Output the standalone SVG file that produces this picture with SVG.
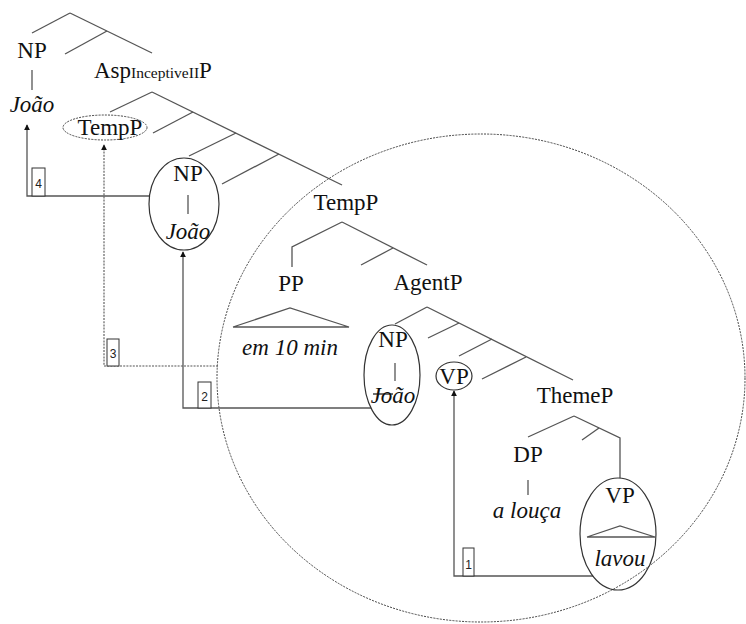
<svg xmlns="http://www.w3.org/2000/svg" width="746" height="624" viewBox="0 0 746 624">
  <style>
    .t { font-family: "Liberation Serif", "Times New Roman", serif; font-size: 23px; fill: #111; text-anchor: middle; }
    .i { font-style: italic; }
    .br { fill: none; stroke: #555; stroke-width: 1.3; }
    .oval { fill: none; stroke: #333; stroke-width: 1.2; }
    .dot { fill: none; stroke: #444; stroke-width: 1; stroke-dasharray: 2 1.2; }
    .mv { fill: none; stroke: #555; stroke-width: 1.3; }
    .mvd { fill: none; stroke: #555; stroke-width: 1.1; stroke-dasharray: 2 1.2; }
    .box { fill: #fff; stroke: #333; stroke-width: 1; }
    .n { font-family: "Liberation Sans", Arial, sans-serif; font-size: 12px; fill: #222; text-anchor: middle; }
  </style>
  <defs>
    <marker id="tip" viewBox="0 0 8 8" refX="7" refY="4" markerWidth="6" markerHeight="6" orient="auto" markerUnits="userSpaceOnUse">
      <path d="M0,0 L8,4 L0,8 Z" fill="#111"/>
    </marker>
  </defs>

  <!-- large dashed domain boundary -->
  <ellipse class="dot" cx="481" cy="378" rx="264" ry="244"/>

  <g id="connectors">
    <!-- top tree -->
    <line class="br" x1="70" y1="13" x2="32" y2="33"/>
    <line class="br" x1="70" y1="13" x2="152" y2="53"/>
    <line class="br" x1="107" y1="31" x2="65" y2="54"/>
    <line class="br" x1="32" y1="70" x2="32" y2="90"/>
    <!-- AspP spine -->
    <line class="br" x1="152" y1="92" x2="110" y2="112"/>
    <line class="br" x1="152" y1="92" x2="342" y2="185"/>
    <line class="br" x1="193" y1="112" x2="153" y2="133"/>
    <line class="br" x1="236" y1="133" x2="189" y2="156"/>
    <line class="br" x1="279" y1="154" x2="222" y2="184"/>
    <line class="br" x1="188" y1="195" x2="188" y2="214"/>
    <!-- TempP -->
    <polyline class="br" points="342,222 292,247 292,267"/>
    <line class="br" x1="342" y1="222" x2="427" y2="265"/>
    <line class="br" x1="393" y1="248" x2="361" y2="265"/>
    <polyline class="br" points="233,327 290,308 349,327 233,327"/>
    <!-- AgentP -->
    <line class="br" x1="427" y1="307" x2="395" y2="324"/>
    <line class="br" x1="427" y1="307" x2="573" y2="380"/>
    <line class="br" x1="459" y1="323" x2="428" y2="338"/>
    <line class="br" x1="492" y1="339" x2="459" y2="356"/>
    <line class="br" x1="526" y1="357" x2="482" y2="379"/>
    <line class="br" x1="395" y1="363" x2="395" y2="381"/>
    <!-- ThemeP -->
    <line class="br" x1="574" y1="416" x2="528" y2="437"/>
    <polyline class="br" points="574,416 620,438 620,478"/>
    <line class="br" x1="599" y1="428" x2="582" y2="440"/>
    <line class="br" x1="528" y1="480" x2="528" y2="495"/>
    <polyline class="br" points="587,537 620,526 655,537 587,537"/>

    <!-- movement paths -->
    <polyline class="mv" points="593,576 454,576 454,391" marker-end="url(#tip)"/>
    <polyline class="mv" points="371,408 183,408 183,252" marker-end="url(#tip)"/>
    <polyline class="mvd" points="218,366 104,366 104,145" marker-end="url(#tip)"/>
    <polyline class="mv" points="150,196 27,196 27,125" marker-end="url(#tip)"/>

    <rect class="box" x="463" y="548" width="11" height="28"/>
    <text class="n" x="468.5" y="569">1</text>
    <rect class="box" x="198" y="382" width="13" height="26"/>
    <text class="n" x="204.5" y="401">2</text>
    <rect class="box" x="107" y="339" width="12" height="27"/>
    <text class="n" x="113" y="358">3</text>
    <rect class="box" x="32" y="168" width="13" height="28"/>
    <text class="n" x="38.5" y="188">4</text>
  </g>

  <g id="np-top">
    <text class="t" x="32" y="58">NP</text>
    <text class="t i" x="32" y="112">João</text>
  </g>

  <g id="asp">
    <text class="t" x="94" y="78" style="text-anchor:start">Asp<tspan font-size="14" textLength="68" lengthAdjust="spacingAndGlyphs">InceptiveII</tspan>P</text>
  </g>

  <g id="tempp-top">
    <ellipse class="dot" cx="105" cy="127.5" rx="42" ry="12.5"/>
    <text class="t" x="110" y="135">TempP</text>
  </g>

  <g id="np-mid">
    <ellipse class="oval" cx="184" cy="204" rx="35" ry="46"/>
    <text class="t" x="188" y="181">NP</text>
    <text class="t i" x="188" y="239">João</text>
  </g>

  <g id="tempp">
    <text class="t" x="346" y="210">TempP</text>
  </g>

  <g id="pp">
    <text class="t" x="291" y="291">PP</text>
    <text class="t i" x="290" y="355">em 10 min</text>
  </g>

  <g id="agentp">
    <text class="t" x="428" y="290">AgentP</text>
  </g>

  <g id="np-low">
    <ellipse class="oval" cx="392" cy="375" rx="28" ry="50"/>
    <text class="t" x="393" y="347">NP</text>
    <text class="t i" x="393" y="403">João</text>
    <line x1="373" y1="394" x2="393" y2="394" stroke="#111" stroke-width="1.2"/>
  </g>

  <g id="vp-moved">
    <ellipse class="oval" cx="454" cy="376" rx="18" ry="14"/>
    <text class="t" x="454" y="384">VP</text>
  </g>

  <g id="themep">
    <text class="t" x="575" y="403">ThemeP</text>
  </g>

  <g id="dp">
    <text class="t" x="528" y="462">DP</text>
    <text class="t i" x="527" y="518">a louça</text>
  </g>

  <g id="vp-base">
    <ellipse class="oval" cx="618" cy="534" rx="38" ry="56"/>
    <text class="t" x="620" y="503">VP</text>
    <text class="t i" x="620" y="566">lavou</text>
  </g>
</svg>
